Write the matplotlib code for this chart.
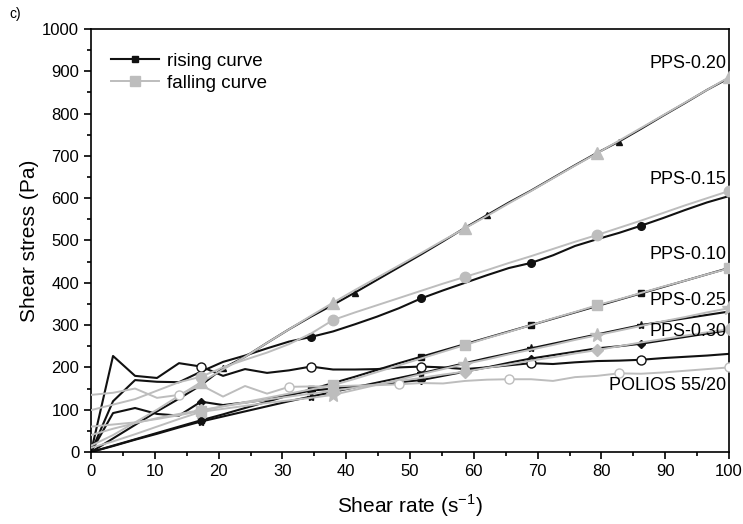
import matplotlib
matplotlib.use("Agg")
import matplotlib.pyplot as plt
from matplotlib.ticker import MultipleLocator

plt.rcParams['font.family'] = ['Liberation Sans', 'DejaVu Sans']

# shear rate grid (s^-1)
shear_rate = [0, 3.45, 6.9, 10.34, 13.79, 17.24, 20.69, 24.14, 27.59, 31.03,
              34.48, 37.93, 41.38, 44.83, 48.28, 51.72, 55.17, 58.62, 62.07, 65.52,
              68.97, 72.41, 75.86, 79.31, 82.76, 86.21, 89.66, 93.1, 96.55, 100]

# rising curves (Pa)
pps020_up = [0, 32, 64, 96, 126, 158, 198, 225, 258, 290, 320, 348, 377, 407, 437,
             467, 498, 530, 560, 590, 618, 648, 678, 707, 734, 764, 795, 825, 856, 884]
pps015_up = [0, 120, 170, 166, 165, 190, 213, 228, 245, 261, 272, 285, 302, 320, 340,
             363, 382, 400, 418, 435, 447, 465, 487, 503, 518, 535, 553, 572, 590, 605]
pps010_up = [0, 15, 30, 45, 60, 75, 89, 104, 119, 134, 148, 163, 178, 194, 210,
             225, 240, 255, 270, 285, 300, 315, 330, 345, 360, 375, 390, 405, 420, 435]
pps025_up = [0, 14, 29, 43, 58, 72, 84, 96, 108, 120, 131, 142, 153, 164, 175,
             186, 198, 210, 222, 233, 245, 256, 267, 278, 289, 300, 308, 316, 324, 332]
pps030_up = [0, 92, 104, 90, 86, 119, 111, 117, 124, 135, 145, 150, 155, 160, 165,
             170, 180, 190, 200, 211, 221, 229, 237, 245, 250, 256, 264, 272, 280, 288]
polios_up = [0, 227, 180, 175, 210, 202, 180, 196, 187, 193, 202, 195, 195, 196, 200,
             202, 200, 196, 200, 205, 210, 208, 212, 215, 216, 218, 222, 225, 228, 232]

# falling curves (Pa)
pps020_dn = [15, 40, 70, 100, 133, 165, 195, 225, 258, 290, 322, 353, 383, 412, 441,
             470, 500, 529, 558, 588, 617, 647, 677, 706, 736, 766, 796, 826, 856, 886]
pps015_dn = [99, 112, 125, 145, 165, 178, 200, 218, 235, 255, 280, 312, 330, 347, 364,
             381, 398, 414, 430, 447, 463, 480, 497, 513, 530, 547, 565, 583, 600, 617]
pps010_dn = [60, 65, 70, 78, 87, 97, 108, 118, 128, 138, 148, 158, 173, 189, 205,
             221, 237, 253, 269, 284, 300, 316, 331, 347, 361, 376, 391, 405, 420, 434]
pps025_dn = [10, 25, 42, 60, 78, 95, 102, 109, 116, 122, 128, 135, 147, 159, 171,
             184, 196, 208, 219, 231, 242, 253, 265, 276, 287, 298, 309, 319, 330, 340]
pps030_dn = [40, 55, 68, 80, 90, 99, 108, 116, 124, 131, 138, 145, 152, 160, 168,
             175, 183, 190, 199, 207, 216, 224, 233, 241, 250, 259, 267, 275, 283, 290]
polios_dn = [135, 140, 150, 128, 135, 158, 131, 156, 138, 154, 155, 155, 157, 158, 160,
             163, 162, 168, 171, 172, 172, 168, 177, 180, 186, 185, 188, 192, 196, 200]

labels = ['PPS-0.20', 'PPS-0.15', 'PPS-0.10', 'PPS-0.25', 'PPS-0.30', 'POLIOS 55/20']
label_y = [918, 643, 468, 359, 284, 158]

BLACK = '#111111'
GRAY = '#bdbdbd'

fig = plt.figure(figsize=(7.43, 5.24), dpi=100)
ax = fig.add_axes([0.1225, 0.1374, 0.8587, 0.8073])

up_marks = [5, 10, 15, 20, 25]
dn_marks = [5, 11, 17, 23, 29]

# rising
ax.plot(shear_rate, pps020_up, color=BLACK, lw=1.5, marker='^', ms=5, markevery=[6, 12, 18, 24], zorder=2)
ax.plot(shear_rate, pps015_up, color=BLACK, lw=1.5, marker='o', ms=5.5, markevery=[10, 15, 20, 25], zorder=2)
ax.plot(shear_rate, pps010_up, color=BLACK, lw=1.5, marker='s', ms=4.5, markevery=up_marks, zorder=2)
ax.plot(shear_rate, pps025_up, color=BLACK, lw=1.5, marker='*', ms=6, markevery=up_marks, zorder=2)
ax.plot(shear_rate, pps030_up, color=BLACK, lw=1.5, marker='D', ms=4.5, markevery=up_marks, zorder=2)
ax.plot(shear_rate, polios_up, color=BLACK, lw=1.5, marker='o', ms=6.5, mfc='white', mec=BLACK,
        markevery=up_marks, zorder=2)

# falling
ax.plot(shear_rate, pps020_dn, color=GRAY, lw=1.4, marker='^', ms=8, markevery=dn_marks, zorder=3)
ax.plot(shear_rate, pps015_dn, color=GRAY, lw=1.4, marker='o', ms=7.5, markevery=dn_marks, zorder=3)
ax.plot(shear_rate, pps010_dn, color=GRAY, lw=1.4, marker='s', ms=7, markevery=dn_marks, zorder=3)
ax.plot(shear_rate, pps025_dn, color=GRAY, lw=1.4, marker='*', ms=10, markevery=dn_marks, zorder=3)
ax.plot(shear_rate, pps030_dn, color=GRAY, lw=1.4, marker='D', ms=6.5, markevery=dn_marks, zorder=3)
ax.plot(shear_rate, polios_dn, color=GRAY, lw=1.4, marker='o', ms=6.5, mfc='white', mec=GRAY,
        markevery=[4, 9, 14, 19, 24, 29], zorder=3)

for lab, yv in zip(labels, label_y):
    ax.text(99.6, yv, lab, ha='right', va='center', fontsize=13, zorder=5)

ax.set_xlim(0, 100)
ax.set_ylim(0, 1000)
ax.xaxis.set_major_locator(MultipleLocator(10))
ax.xaxis.set_minor_locator(MultipleLocator(5))
ax.yaxis.set_major_locator(MultipleLocator(100))
ax.yaxis.set_minor_locator(MultipleLocator(50))
ax.tick_params(which='major', direction='out', length=5, width=1.2, labelsize=12, top=False, right=False)
ax.tick_params(which='minor', direction='out', length=3, width=1.2, top=False, right=False)
for sp in ax.spines.values():
    sp.set_linewidth(1.2)

ax.set_xlabel('Shear rate (s$^{\\mathregular{-1}}$)', fontsize=15, labelpad=10)
ax.set_ylabel('Shear stress (Pa)', fontsize=15, labelpad=2)

h1, = ax.plot([], [], color=BLACK, lw=1.5, marker='s', ms=5)
h2, = ax.plot([], [], color=GRAY, lw=1.4, marker='s', ms=7)
ax.legend([h1, h2], ['rising curve', 'falling curve'], loc='upper left', bbox_to_anchor=(0.01, 0.975),
          frameon=False, fontsize=13.5, handlelength=2.6, handletextpad=0.4, labelspacing=0.25, borderpad=0.2)

fig.text(0.013, 0.965, 'c)', fontsize=10)

fig.savefig('out.png', dpi=100)
